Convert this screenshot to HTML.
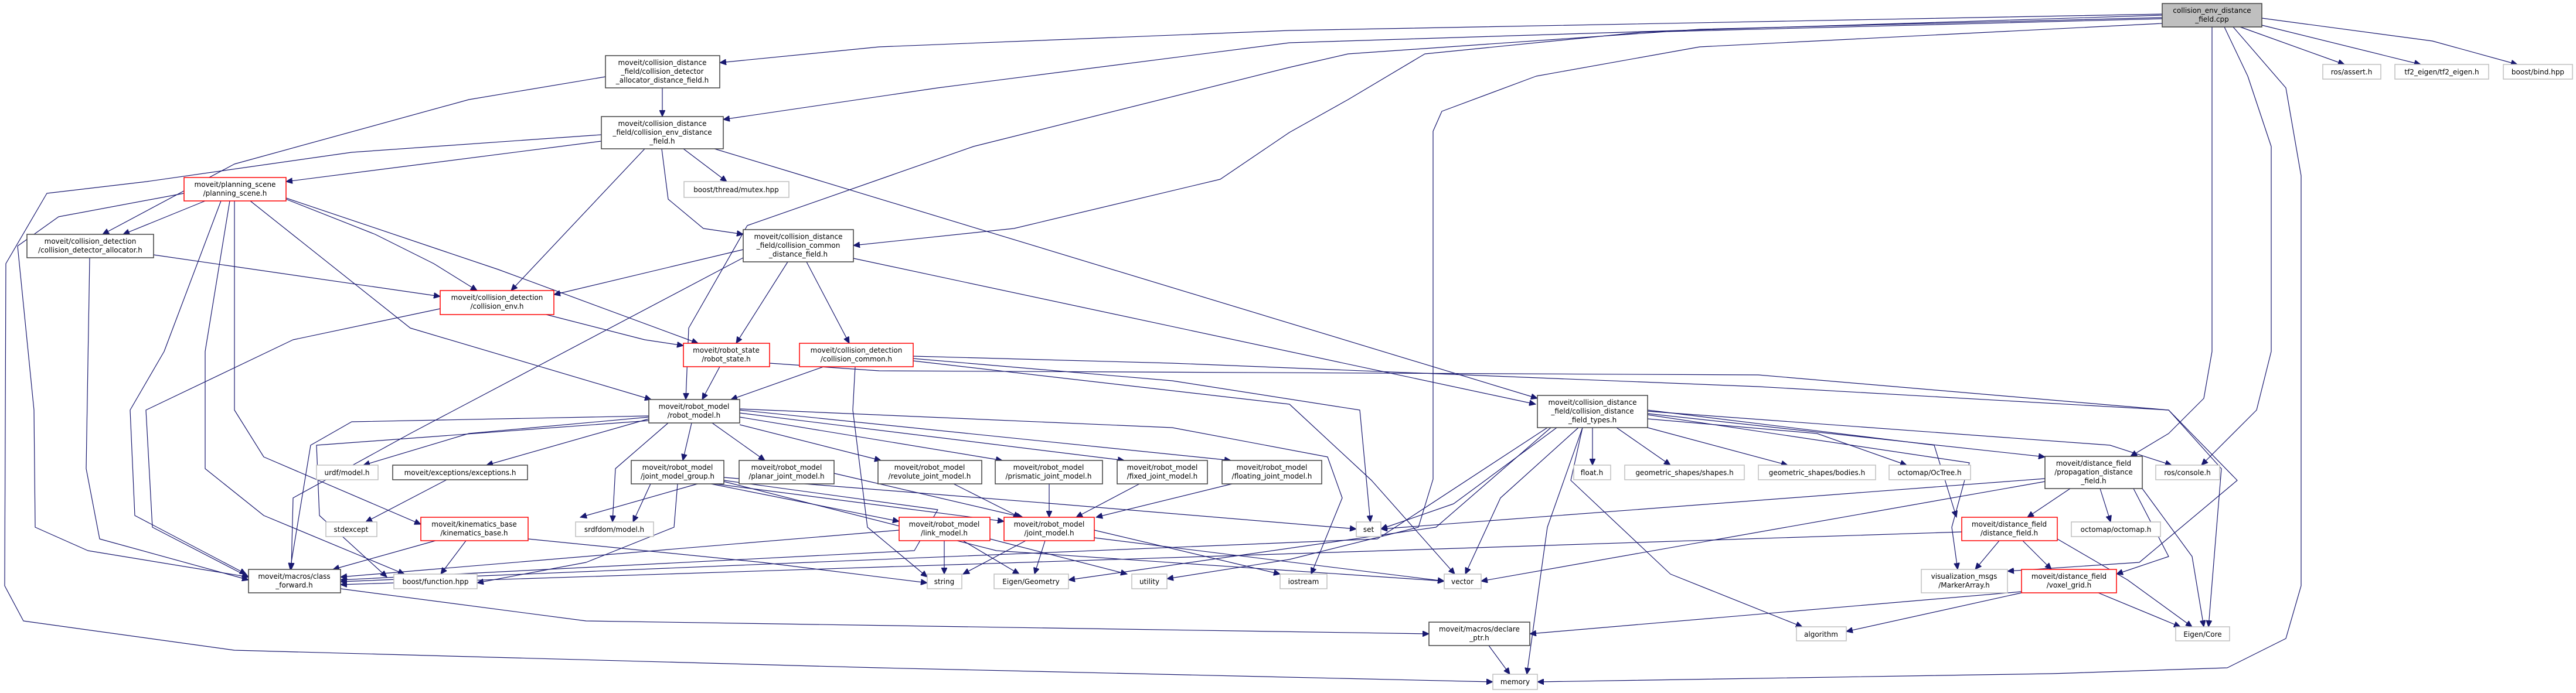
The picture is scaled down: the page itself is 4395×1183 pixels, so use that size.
<!DOCTYPE html>
<html><head><meta charset="utf-8"><style>
html,body{margin:0;padding:0;background:#fff;}
svg{display:block;}
text{font-family:"DejaVu Sans","Liberation Sans",sans-serif;font-size:12px;fill:#000;text-anchor:middle;}
.e{fill:none;stroke:#191970;stroke-width:1.2;stroke-linejoin:round;marker-end:url(#a);}
.b{fill:#fff;stroke:#404040;stroke-width:1.5;}
.r{fill:#fff;stroke:#ff0000;stroke-width:1.5;}
.g{fill:#fff;stroke:#bfbfbf;stroke-width:1.5;}
</style></head><body>
<svg width="4395" height="1183" viewBox="0 0 4395 1183" xmlns="http://www.w3.org/2000/svg">
<defs><marker id="a" markerUnits="userSpaceOnUse" markerWidth="12" markerHeight="10" refX="11" refY="5" orient="auto"><path d="M0,0 L11,5 L0,10 z" fill="#191970" stroke="#191970"/></marker></defs>
<rect width="4395" height="1183" fill="#fff"/>
<g>
<polyline class="e" points="3689,24 2200,52 1500,80 1228,107"/>
<polyline class="e" points="3689,26 2200,73 1600,150 1234,204"/>
<polyline class="e" points="3689,30 2900,50 2300,92 2200,115 1661,250 1275,385 1175,560 1170,682"/>
<polyline class="e" points="3689,32 2800,55 2431,92 2300,170 2200,226 2082,306 1730,390 1456,419"/>
<polyline class="e" points="3689,40 2900,80 2621,130 2460,190 2445,224 2445,818 2420,900 2200,955 1991,988"/>
<polyline class="e" points="3774,46 3774,600 3760,680 3700,740 3635,779"/>
<polyline class="e" points="3795,46 3835,130 3875,250 3875,600 3850,700 3756,794"/>
<polyline class="e" points="3810,46 3900,150 3926,300 3926,1000 3900,1090 3800,1140 3500,1150 2623,1164"/>
<polyline class="e" points="3822,46 4000,110"/>
<polyline class="e" points="3859,43 4130,110"/>
<polyline class="e" points="3859,31 4150,70 4295,110"/>
<polyline class="e" points="1130,150 1130,199"/>
<polyline class="e" points="1033,131 800,170 400,280 175,400"/>
<polyline class="e" points="1026,241 488,310"/>
<polyline class="e" points="1100,254 872,496"/>
<polyline class="e" points="1129,254 1140,340 1200,390 1268,400"/>
<polyline class="e" points="1166,254 1240,310"/>
<polyline class="e" points="1219,254 2623,680"/>
<polyline class="e" points="1026,230 600,260 250,310 80,330 10,450 8,1000 40,1060 400,1110 1500,1140 2547,1164"/>
<polyline class="e" points="350,343 210,400"/>
<polyline class="e" points="488,340 640,400 740,450 814,496"/>
<polyline class="e" points="488,338 850,460 1191,586"/>
<polyline class="e" points="427,343 700,560 1111,682"/>
<polyline class="e" points="314,330 100,370 30,420 58,700 60,900 150,940 424,985"/>
<polyline class="e" points="377,343 280,600 222,700 230,880 420,980"/>
<polyline class="e" points="392,343 350,600 350,800 450,880 690,980"/>
<polyline class="e" points="400,343 400,700 450,780 718,895"/>
<polyline class="e" points="153,440 147,800 170,920 424,990"/>
<polyline class="e" points="262,435 751,506"/>
<polyline class="e" points="751,527 500,580 249,700 260,900 424,985"/>
<polyline class="e" points="932,537 1100,580 1166,590"/>
<polyline class="e" points="1268,426 945,503"/>
<polyline class="e" points="1344,447 1256,586"/>
<polyline class="e" points="1376,447 1449,586"/>
<polyline class="e" points="1456,441 2620,690"/>
<polyline class="e" points="1268,440 700,740 500,850 497,972"/>
<polyline class="e" points="1228,626 1198,682"/>
<polyline class="e" points="1313,620 1500,633 3000,640 3700,700 3790,800 3768,1070"/>
<polyline class="e" points="1405,626 1247,682"/>
<polyline class="e" points="1459,626 1455,700 1480,900 1582,985"/>
<polyline class="e" points="1558,612 2000,650 2320,700 2338,891"/>
<polyline class="e" points="1558,616 2200,690 2340,820 2482,980"/>
<polyline class="e" points="1558,608 2000,620 3000,660 3700,700 3817,820 3650,960 3425,975"/>
<polyline class="e" points="1180,722 1165,786"/>
<polyline class="e" points="1215,722 1305,786"/>
<polyline class="e" points="1262,725 1503,786"/>
<polyline class="e" points="1262,712 1710,786"/>
<polyline class="e" points="1262,705 1918,786"/>
<polyline class="e" points="1262,700 2100,786"/>
<polyline class="e" points="1107,710 600,720 530,760 495,972"/>
<polyline class="e" points="1107,712 800,740 620,794"/>
<polyline class="e" points="1107,715 830,794"/>
<polyline class="e" points="1140,722 1050,800 1045,891"/>
<polyline class="e" points="1107,718 540,760 545,880 660,985"/>
<polyline class="e" points="1262,698 2000,730 2265,780 2290,850 2237,980"/>
<polyline class="e" points="1190,826 990,883"/>
<polyline class="e" points="1110,826 1080,891"/>
<polyline class="e" points="1156,826 1150,900 1000,960 814,995"/>
<polyline class="e" points="1213,826 1534,890"/>
<polyline class="e" points="1220,826 1713,890"/>
<polyline class="e" points="1235,815 1800,860 2314,903"/>
<polyline class="e" points="1235,820 1600,870 1560,940 581,990"/>
<polyline class="e" points="1235,822 1700,940 2464,992"/>
<polyline class="e" points="1423,808 1745,883"/>
<polyline class="e" points="1627,826 1740,883"/>
<polyline class="e" points="1790,826 1790,883"/>
<polyline class="e" points="1944,826 1836,883"/>
<polyline class="e" points="2102,826 1870,883"/>
<polyline class="e" points="743,923 568,972"/>
<polyline class="e" points="795,923 752,980"/>
<polyline class="e" points="901,920 1300,960 1582,995"/>
<polyline class="e" points="762,819 624,891"/>
<polyline class="e" points="1611,923 1611,980"/>
<polyline class="e" points="1643,923 1739,980"/>
<polyline class="e" points="1689,920 1923,980"/>
<polyline class="e" points="1534,905 581,985"/>
<polyline class="e" points="1750,923 1643,980"/>
<polyline class="e" points="1783,923 1765,980"/>
<polyline class="e" points="1867,918 2464,992"/>
<polyline class="e" points="1867,905 2184,980"/>
<polyline class="e" points="581,1005 1000,1060 2438,1082"/>
<polyline class="e" points="2540,1102 2576,1151"/>
<polyline class="e" points="2717,730 2717,794"/>
<polyline class="e" points="2758,730 2850,794"/>
<polyline class="e" points="2811,730 3050,794"/>
<polyline class="e" points="2811,715 3100,740 3253,794"/>
<polyline class="e" points="2811,706 3489,780"/>
<polyline class="e" points="2811,700 3300,760 3338,883"/>
<polyline class="e" points="2811,702 3600,760 3705,794"/>
<polyline class="e" points="2811,708 3360,790 3330,900 3340,972"/>
<polyline class="e" points="2693,730 2560,850 2500,980"/>
<polyline class="e" points="2656,730 2480,860 2356,903"/>
<polyline class="e" points="2640,730 2350,920 581,993"/>
<polyline class="e" points="2700,730 2640,900 2605,1151"/>
<polyline class="e" points="2700,730 2680,820 2850,980 3075,1070"/>
<polyline class="e" points="2646,730 2450,900 1823,990"/>
<polyline class="e" points="3532,834 3459,883"/>
<polyline class="e" points="3583,834 3601,891"/>
<polyline class="e" points="3640,834 3700,950 3611,980"/>
<polyline class="e" points="3655,834 3740,950 3760,1070"/>
<polyline class="e" points="3489,817 2356,903"/>
<polyline class="e" points="3489,822 2527,992"/>
<polyline class="e" points="3411,923 3370,972"/>
<polyline class="e" points="3451,923 3500,972"/>
<polyline class="e" points="3510,920 3630,990 3740,1070"/>
<polyline class="e" points="3347,908 581,998"/>
<polyline class="e" points="3580,1012 3720,1070"/>
<polyline class="e" points="3449,1010 2610,1082"/>
<polyline class="e" points="3449,1012 3150,1078"/>
</g>
<g>
<rect x="3689" y="6" width="170" height="40" fill="#bfbfbf" stroke="#404040" stroke-width="1.5"/>
<text x="3774" y="22">collision_env_distance</text><text x="3774" y="37">_field.cpp</text>

<rect class="b" x="1033" y="95" width="195" height="55"/>
<text x="1130" y="111">moveit/collision_distance</text><text x="1130" y="126">_field/collision_detector</text><text x="1130" y="141">_allocator_distance_field.h</text>
<rect class="b" x="1026" y="199" width="208" height="55"/>
<text x="1130" y="215">moveit/collision_distance</text><text x="1130" y="230">_field/collision_env_distance</text><text x="1130" y="245">_field.h</text>
<rect class="b" x="46" y="400" width="216" height="40"/>
<text x="154" y="416">moveit/collision_detection</text><text x="154" y="431">/collision_detector_allocator.h</text>
<rect class="b" x="1268" y="392" width="188" height="55"/>
<text x="1362" y="408">moveit/collision_distance</text><text x="1362" y="423">_field/collision_common</text><text x="1362" y="438">_distance_field.h</text>
<rect class="b" x="1107" y="682" width="155" height="40"/>
<text x="1184" y="698">moveit/robot_model</text><text x="1184" y="713">/robot_model.h</text>
<rect class="b" x="1077" y="786" width="158" height="40"/>
<text x="1156" y="802">moveit/robot_model</text><text x="1156" y="817">/joint_model_group.h</text>
<rect class="b" x="1261" y="786" width="162" height="40"/>
<text x="1342" y="802">moveit/robot_model</text><text x="1342" y="817">/planar_joint_model.h</text>
<rect class="b" x="1498" y="786" width="177" height="40"/>
<text x="1586" y="802">moveit/robot_model</text><text x="1586" y="817">/revolute_joint_model.h</text>
<rect class="b" x="1698" y="786" width="183" height="40"/>
<text x="1789" y="802">moveit/robot_model</text><text x="1789" y="817">/prismatic_joint_model.h</text>
<rect class="b" x="1906" y="786" width="154" height="40"/>
<text x="1983" y="802">moveit/robot_model</text><text x="1983" y="817">/fixed_joint_model.h</text>
<rect class="b" x="2085" y="786" width="170" height="40"/>
<text x="2170" y="802">moveit/robot_model</text><text x="2170" y="817">/floating_joint_model.h</text>
<rect class="b" x="670" y="794" width="230" height="25"/>
<text x="785" y="811">moveit/exceptions/exceptions.h</text>
<rect class="b" x="424" y="972" width="157" height="40"/>
<text x="502" y="988">moveit/macros/class</text><text x="502" y="1003">_forward.h</text>
<rect class="b" x="2438" y="1062" width="172" height="40"/>
<text x="2524" y="1078">moveit/macros/declare</text><text x="2524" y="1093">_ptr.h</text>
<rect class="b" x="2623" y="675" width="188" height="55"/>
<text x="2717" y="691">moveit/collision_distance</text><text x="2717" y="706">_field/collision_distance</text><text x="2717" y="721">_field_types.h</text>
<rect class="b" x="3489" y="779" width="166" height="55"/>
<text x="3572" y="795">moveit/distance_field</text><text x="3572" y="810">/propagation_distance</text><text x="3572" y="825">_field.h</text>

<rect class="r" x="314" y="303" width="174" height="40"/>
<text x="401" y="319">moveit/planning_scene</text><text x="401" y="334">/planning_scene.h</text>
<rect class="r" x="751" y="496" width="194" height="41"/>
<text x="848" y="512">moveit/collision_detection</text><text x="848" y="527">/collision_env.h</text>
<rect class="r" x="1166" y="586" width="147" height="40"/>
<text x="1239" y="602">moveit/robot_state</text><text x="1239" y="617">/robot_state.h</text>
<rect class="r" x="1364" y="586" width="194" height="40"/>
<text x="1461" y="602">moveit/collision_detection</text><text x="1461" y="617">/collision_common.h</text>
<rect class="r" x="718" y="883" width="183" height="40"/>
<text x="809" y="899">moveit/kinematics_base</text><text x="809" y="914">/kinematics_base.h</text>
<rect class="r" x="1534" y="883" width="155" height="40"/>
<text x="1611" y="899">moveit/robot_model</text><text x="1611" y="914">/link_model.h</text>
<rect class="r" x="1713" y="883" width="154" height="40"/>
<text x="1790" y="899">moveit/robot_model</text><text x="1790" y="914">/joint_model.h</text>
<rect class="r" x="3347" y="883" width="163" height="40"/>
<text x="3428" y="899">moveit/distance_field</text><text x="3428" y="914">/distance_field.h</text>
<rect class="r" x="3449" y="972" width="162" height="40"/>
<text x="3530" y="988">moveit/distance_field</text><text x="3530" y="1003">/voxel_grid.h</text>

<rect class="g" x="1167" y="310" width="179" height="27"/><text x="1256" y="328">boost/thread/mutex.hpp</text>
<rect class="g" x="3963" y="110" width="99" height="25"/><text x="4012" y="127">ros/assert.h</text>
<rect class="g" x="4086" y="110" width="160" height="25"/><text x="4166" y="127">tf2_eigen/tf2_eigen.h</text>
<rect class="g" x="4271" y="110" width="118" height="25"/><text x="4330" y="127">boost/bind.hpp</text>
<rect class="g" x="540" y="794" width="105" height="25"/><text x="592" y="811">urdf/model.h</text>
<rect class="g" x="556" y="891" width="87" height="25"/><text x="599" y="908">stdexcept</text>
<rect class="g" x="982" y="891" width="133" height="25"/><text x="1048" y="908">srdfdom/model.h</text>
<rect class="g" x="672" y="980" width="142" height="25"/><text x="743" y="997">boost/function.hpp</text>
<rect class="g" x="1582" y="980" width="59" height="25"/><text x="1611" y="997">string</text>
<rect class="g" x="1696" y="980" width="127" height="25"/><text x="1759" y="997">Eigen/Geometry</text>
<rect class="g" x="1931" y="980" width="60" height="25"/><text x="1961" y="997">utility</text>
<rect class="g" x="2184" y="980" width="80" height="25"/><text x="2224" y="997">iostream</text>
<rect class="g" x="2314" y="891" width="42" height="25"/><text x="2335" y="908">set</text>
<rect class="g" x="2464" y="980" width="63" height="25"/><text x="2495" y="997">vector</text>
<rect class="g" x="2685" y="794" width="63" height="25"/><text x="2716" y="811">float.h</text>
<rect class="g" x="2772" y="794" width="204" height="25"/><text x="2874" y="811">geometric_shapes/shapes.h</text>
<rect class="g" x="3000" y="794" width="200" height="25"/><text x="3100" y="811">geometric_shapes/bodies.h</text>
<rect class="g" x="3223" y="794" width="139" height="25"/><text x="3292" y="811">octomap/OcTree.h</text>
<rect class="g" x="2547" y="1151" width="76" height="26"/><text x="2585" y="1168">memory</text>
<rect class="g" x="3065" y="1070" width="85" height="24"/><text x="3107" y="1087">algorithm</text>
<rect class="g" x="3278" y="972" width="147" height="40"/><text x="3351" y="988">visualization_msgs</text><text x="3351" y="1003">/MarkerArray.h</text>
<rect class="g" x="3678" y="794" width="109" height="25"/><text x="3732" y="811">ros/console.h</text>
<rect class="g" x="3534" y="891" width="152" height="25"/><text x="3610" y="908">octomap/octomap.h</text>
<rect class="g" x="3712" y="1070" width="92" height="24"/><text x="3758" y="1087">Eigen/Core</text>
</g>
</svg>
</body></html>
